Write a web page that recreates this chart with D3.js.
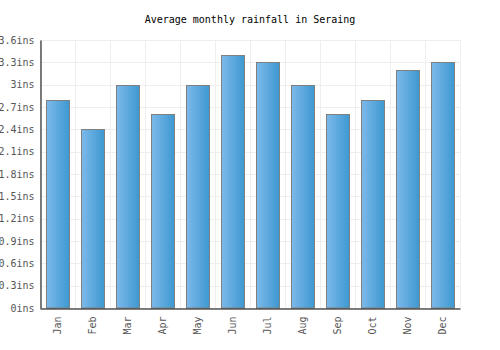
<!DOCTYPE html>
<html>
<head>
<meta charset="utf-8">
<script src="https://cdn.jsdelivr.net/npm/d3@7"></script>
<style>
  body { margin: 0; background: #fff; }
  text { font-family: "DejaVu Sans Mono", monospace; }
</style>
</head>
<body>
<svg id="chart"></svg>
<script>
// months and rainfall (inches)
const months = ['Jan', 'Feb', 'Mar', 'Apr', 'May', 'Jun', 'Jul', 'Aug', 'Sep', 'Oct', 'Nov', 'Dec'];
const rainfall = [2.8, 2.4, 3.0, 2.6, 3.0, 3.4, 3.3, 3.0, 2.6, 2.8, 3.2, 3.3];
const yTicks = [0, 0.3, 0.6, 0.9, 1.2, 1.5, 1.8, 2.1, 2.4, 2.7, 3.0, 3.3, 3.6];

const width = 500, height = 350;
const margin = { top: 40, right: 40, bottom: 42, left: 40 };

const svg = d3.select('#chart')
    .attr('width', width)
    .attr('height', height);

// gradient for the bars, light on the left, darker on the right
const grad = svg.append('defs').append('linearGradient')
    .attr('id', 'barGrad')
    .attr('x1', '0%').attr('x2', '100%')
    .attr('y1', '0%').attr('y2', '0%');
grad.append('stop').attr('offset', '0%').attr('stop-color', '#7db9ea');
grad.append('stop').attr('offset', '100%').attr('stop-color', '#3d98d1');

const xScale = d3.scaleBand()
    .domain(months)
    .range([margin.left, width - margin.right])
    .paddingInner(0.33)
    .paddingOuter(0.165);

const yScale = d3.scaleLinear()
    .domain([0, 3.6])
    .range([height - margin.bottom, margin.top]);

// title
svg.append('text')
    .attr('x', width / 2)
    .attr('y', 23)
    .attr('text-anchor', 'middle')
    .attr('font-size', 10)
    .attr('fill', '#000')
    .text('Average monthly rainfall in Seraing');

// horizontal grid
svg.append('g')
    .selectAll('line')
    .data(yTicks)
    .join('line')
    .attr('x1', margin.left)
    .attr('x2', width - margin.right)
    .attr('y1', d => Math.round(yScale(d)) + 0.5)
    .attr('y2', d => Math.round(yScale(d)) + 0.5)
    .attr('stroke', '#eeeeee');

// vertical grid at category boundaries
let step = xScale.step();
svg.append('g')
    .selectAll('line')
    .data(d3.range(months.length + 1))
    .join('line')
    .attr('x1', i => Math.round(margin.left + i * step) + 0.5)
    .attr('x2', i => Math.round(margin.left + i * step) + 0.5)
    .attr('y1', margin.top)
    .attr('y2', height - margin.bottom)
    .attr('stroke', '#eeeeee');

// bars
svg.append('g')
    .selectAll('rect')
    .data(rainfall)
    .join('rect')
    .attr('x', (d, i) => Math.round(xScale(months[i])) + 0.5)
    .attr('y', d => Math.round(yScale(d)) + 0.5)
    .attr('width', Math.round(xScale.bandwidth()))
    .attr('height', d => yScale(0) - Math.round(yScale(d)) - 0.5)
    .attr('fill', 'url(#barGrad)')
    .attr('stroke', '#808080')
    .attr('stroke-width', 1);

// y axis
const yAxis = svg.append('g')
    .attr('transform', `translate(${margin.left + 0.5},0)`)
    .call(d3.axisLeft(yScale)
        .tickValues(yTicks)
        .tickSize(0)
        .tickPadding(6)
        .tickFormat(d => d3.format('~g')(d) + 'ins'));
yAxis.select('.domain').attr('stroke', '#000');
yAxis.selectAll('text')
    .attr('font-family', '"DejaVu Sans Mono", monospace')
    .attr('font-size', 10)
    .attr('fill', '#555');

// x axis
const xAxis = svg.append('g')
    .attr('transform', `translate(0,${height - margin.bottom + 0.5})`)
    .call(d3.axisBottom(xScale).tickSize(0).tickPadding(0));
xAxis.select('.domain').attr('stroke', '#000');
xAxis.selectAll('text')
    .attr('font-family', '"DejaVu Sans Mono", monospace')
    .attr('font-size', 10)
    .attr('fill', '#555')
    .attr('transform', 'rotate(-90)')
    .attr('text-anchor', 'end')
    .attr('dy', '0.35em')
    .attr('x', -8)
    .attr('y', 0);
</script>
</body>
</html>
